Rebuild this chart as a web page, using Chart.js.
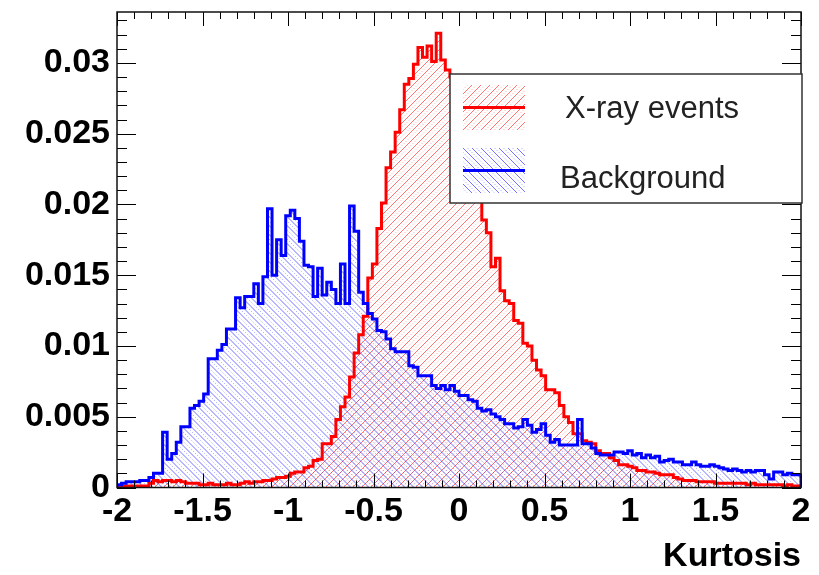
<!DOCTYPE html>
<html>
<head>
<meta charset="utf-8">
<script src="https://cdn.jsdelivr.net/npm/chart.js@4.4.1/dist/chart.umd.min.js"></script>
<style>
  html, body { margin: 0; padding: 0; background: #ffffff; }
  #wrap { width: 819px; height: 575px; }
</style>
</head>
<body>
<div id="wrap"><canvas id="myChart" width="819" height="575"></canvas></div>
<script>
// histogram range, 150 bins from -2 to 2
var x_min = -2;
var x_max = 2;
var y_max = 0.0336;

var x_ticks = [-2, -1.5, -1, -0.5, 0, 0.5, 1, 1.5, 2];
var x_tick_labels = ['-2', '-1.5', '-1', '-0.5', '0', '0.5', '1', '1.5', '2'];
var y_ticks = [0, 0.005, 0.01, 0.015, 0.02, 0.025, 0.03];
var y_tick_labels = ['0', '0.005', '0.01', '0.015', '0.02', '0.025', '0.03'];

var series_labels = ['X-ray events', 'Background'];

// normalised bin contents
var xray_counts = [
  0.0000, 0.0001, 0.0001, 0.0001, 0.0001, 0.0001, 0.0001, 0.0003, 0.0005, 0.0004,
  0.0005, 0.0005, 0.0004, 0.0005, 0.0004, 0.0003, 0.0003, 0.0003, 0.0002, 0.0002,
  0.0003, 0.0002, 0.0002, 0.0002, 0.0003, 0.0002, 0.0002, 0.0003, 0.0004, 0.0003,
  0.0004, 0.0004, 0.0005, 0.0005, 0.0006, 0.0007, 0.0007, 0.0008, 0.0010, 0.0011,
  0.0011, 0.0014, 0.0015, 0.0019, 0.0020, 0.0031, 0.0031, 0.0036, 0.0048, 0.0057,
  0.0064, 0.0078, 0.0095, 0.0108, 0.0121, 0.0148, 0.0158, 0.0183, 0.0201, 0.0226,
  0.0237, 0.0251, 0.0267, 0.0285, 0.0289, 0.0299, 0.0311, 0.0304, 0.0312, 0.0301,
  0.0321, 0.0302, 0.0295, 0.0290, 0.0281, 0.0272, 0.0260, 0.0246, 0.0231, 0.0212,
  0.0189, 0.0180, 0.0156, 0.0162, 0.0139, 0.0132, 0.0130, 0.0118, 0.0116, 0.0102,
  0.0100, 0.0090, 0.0083, 0.0079, 0.0069, 0.0069, 0.0067, 0.0058, 0.0050, 0.0046,
  0.0038, 0.0038, 0.0033, 0.0032, 0.0031, 0.0026, 0.0024, 0.0024, 0.0021, 0.0019,
  0.0016, 0.0016, 0.0015, 0.0014, 0.0012, 0.0012, 0.0011, 0.0011, 0.0010, 0.0009,
  0.0009, 0.0009, 0.0007, 0.0006, 0.0005, 0.0005, 0.0005, 0.0004, 0.0004, 0.0004,
  0.0004, 0.0003, 0.0003, 0.0003, 0.0003, 0.0003, 0.0003, 0.0003, 0.0002, 0.0003,
  0.0002, 0.0002, 0.0002, 0.0002, 0.0002, 0.0002, 0.0001, 0.0002, 0.0001, 0.0001
];

var background_counts = [
  0.0002, 0.0003, 0.0004, 0.0004, 0.0004, 0.0005, 0.0005, 0.0007, 0.0010, 0.0010,
  0.0039, 0.0020, 0.0024, 0.0032, 0.0043, 0.0043, 0.0056, 0.0058, 0.0061, 0.0066,
  0.0091, 0.0091, 0.0097, 0.0101, 0.0112, 0.0112, 0.0134, 0.0127, 0.0135, 0.0135,
  0.0144, 0.0130, 0.0149, 0.0197, 0.0150, 0.0175, 0.0164, 0.0192, 0.0196, 0.0190,
  0.0174, 0.0157, 0.0156, 0.0135, 0.0155, 0.0136, 0.0145, 0.0140, 0.0130, 0.0158,
  0.0130, 0.0199, 0.0181, 0.0138, 0.0130, 0.0123, 0.0119, 0.0111, 0.0110, 0.0105,
  0.0098, 0.0096, 0.0096, 0.0096, 0.0086, 0.0085, 0.0079, 0.0079, 0.0079, 0.0072,
  0.0070, 0.0072, 0.0069, 0.0072, 0.0068, 0.0065, 0.0065, 0.0062, 0.0061, 0.0056,
  0.0054, 0.0055, 0.0052, 0.0050, 0.0048, 0.0045, 0.0045, 0.0042, 0.0043, 0.0048,
  0.0044, 0.0039, 0.0041, 0.0045, 0.0037, 0.0032, 0.0034, 0.0030, 0.0030, 0.0030,
  0.0030, 0.0048, 0.0031, 0.0031, 0.0028, 0.0024, 0.0023, 0.0023, 0.0023, 0.0025,
  0.0025, 0.0024, 0.0026, 0.0023, 0.0024, 0.0021, 0.0023, 0.0021, 0.0022, 0.0018,
  0.0019, 0.0020, 0.0018, 0.0018, 0.0016, 0.0016, 0.0018, 0.0016, 0.0015, 0.0015,
  0.0016, 0.0015, 0.0014, 0.0013, 0.0012, 0.0013, 0.0012, 0.0011, 0.0012, 0.0011,
  0.0012, 0.0012, 0.0009, 0.0006, 0.0011, 0.0011, 0.0009, 0.0010, 0.0009, 0.0009
];

let chart = document.getElementById('myChart');

var font_name = "'Liberation Sans', Arial, Helvetica, sans-serif";

// turn bin contents into a closed step outline (two points per bin)
function histPoints(counts) {
  var w = (x_max - x_min) / counts.length;
  var pts = [{x: x_min, y: 0}];
  for (var i = 0; i < counts.length; i++) {
    pts.push({x: x_min + i * w, y: counts[i]});
    pts.push({x: x_min + (i + 1) * w, y: counts[i]});
  }
  pts.push({x: x_max, y: 0});
  return pts;
}

// diagonal hatch lines inside whatever clip is active, dir 1 = '/', dir -1 = '\'
function hatchLines(g, box, rgb, dir) {
  var h = box.bottom - box.top;
  var step = 9;
  g.lineWidth = 1;
  for (var pass = 0; pass < 2; pass++) {
    g.strokeStyle = 'rgba(' + rgb + (pass == 0 ? ',0.55)' : ',0.4)');
    g.setLineDash(pass == 0 ? [] : [1, 2]);
    g.beginPath();
    for (var x0 = box.left - h - step + pass * step / 2; x0 < box.right + step; x0 += step) {
      if (dir > 0) {
        g.moveTo(x0, box.bottom); g.lineTo(x0 + h, box.top);
      } else {
        g.moveTo(x0, box.top); g.lineTo(x0 + h, box.bottom);
      }
    }
    g.stroke();
  }
  g.setLineDash([]);
}

function findLabel(value, ticks, labels) {
  for (var i = 0; i < ticks.length; i++) {
    if (Math.abs(ticks[i] - value) < 1e-9) return labels[i];
  }
  return '';
}

var hatch_rgb = ['255,0,0', '0,0,255'];
var hatch_dir = [1, -1];

// hatched area under each histogram, built from the points chart.js placed
const hatchFill = {
  id: 'hatchFill',
  beforeDatasetsDraw(c) {
    var a = c.chartArea;
    var base = c.scales.y.getPixelForValue(0);
    var g = c.ctx;
    for (var k = 0; k < c.data.datasets.length; k++) {
      var pts = c.getDatasetMeta(k).data;
      g.save();
      g.beginPath();
      g.rect(a.left, a.top, a.right - a.left, a.bottom - a.top);
      g.clip();
      g.beginPath();
      g.moveTo(pts[0].x, base);
      for (var i = 0; i < pts.length; i++) g.lineTo(pts[i].x, pts[i].y);
      g.lineTo(pts[pts.length - 1].x, base);
      g.closePath();
      g.clip();
      hatchLines(g, a, hatch_rgb[k], hatch_dir[k]);
      g.restore();
    }
  }
};

// frame, inner ticks on all four sides, and the legend box
const rootFrame = {
  id: 'rootFrame',
  afterDraw(c) {
    var a = c.chartArea;
    var xs = c.scales.x;
    var ys = c.scales.y;
    var g = c.ctx;
    g.save();
    g.strokeStyle = '#000';
    g.lineWidth = 1;
    g.beginPath();
    // x ticks every 0.1, longer on 0.5
    for (var i = 0; i <= 40; i++) {
      var v = x_min + i * 0.1;
      var px = Math.round(xs.getPixelForValue(v)) + 0.5;
      var len = (i % 5 == 0) ? 14 : 7;
      g.moveTo(px, a.bottom); g.lineTo(px, a.bottom - len);
      g.moveTo(px, a.top); g.lineTo(px, a.top + len);
    }
    // y ticks every 0.001, longer on 0.005
    for (var j = 0; j <= 33; j++) {
      var vy = j * 0.001;
      var py = Math.round(ys.getPixelForValue(vy)) + 0.5;
      var ln = (j % 5 == 0) ? 19 : 10;
      g.moveTo(a.left, py); g.lineTo(a.left + ln, py);
      g.moveTo(a.right, py); g.lineTo(a.right - ln, py);
    }
    g.stroke();
    g.lineWidth = 1.5;
    g.strokeStyle = '#111';
    g.strokeRect(a.left, a.top, a.right - a.left, a.bottom - a.top);

    // legend
    var lx = 450, ly = 74, lw = 352, lh = 129;
    g.fillStyle = '#fff';
    g.fillRect(lx, ly, lw, lh);
    g.strokeStyle = '#333';
    g.lineWidth = 1.5;
    g.strokeRect(lx, ly, lw, lh);
    var sets = c.data.datasets;
    var rows = [{y: 85, tx: 565, ty: 118}, {y: 148, tx: 560, ty: 188}];
    for (var k = 0; k < rows.length; k++) {
      var ds = sets[k];
      var box = {left: 463, right: 525, top: rows[k].y, bottom: rows[k].y + 45};
      g.save();
      g.beginPath();
      g.rect(box.left, box.top, box.right - box.left, box.bottom - box.top);
      g.clip();
      hatchLines(g, box, hatch_rgb[k], hatch_dir[k]);
      g.restore();
      g.strokeStyle = ds.borderColor;
      g.lineWidth = 3;
      g.beginPath();
      g.moveTo(463, rows[k].y + 22.5);
      g.lineTo(525, rows[k].y + 22.5);
      g.stroke();
      g.fillStyle = '#222';
      g.font = '31px ' + font_name;
      g.textBaseline = 'alphabetic';
      g.textAlign = 'left';
      g.fillText(ds.label, rows[k].tx, rows[k].ty);
    }
    g.restore();
  }
};

const config = {
  type: 'line',
  data: {
    datasets: [{
      label: series_labels[0],
      data: histPoints(xray_counts),
      borderColor: '#ff0000',
      borderWidth: 3,
      borderJoinStyle: 'miter',
      pointRadius: 0,
      fill: false,
      tension: 0,
      order: 1
    }, {
      label: series_labels[1],
      data: histPoints(background_counts),
      borderColor: '#0000ff',
      borderWidth: 3,
      borderJoinStyle: 'miter',
      pointRadius: 0,
      fill: false,
      tension: 0,
      order: 0
    }]
  },
  options: {
    responsive: false,
    animation: false,
    devicePixelRatio: 1,
    layout: {
      padding: {top: 12, right: 18, left: 0, bottom: 0}
    },
    plugins: {
      legend: {display: false},
      tooltip: {enabled: false}
    },
    scales: {
      x: {
        type: 'linear',
        min: x_min,
        max: x_max,
        afterFit: function(scale) {
          scale.height = 87.5;
          scale.paddingLeft = 0;
          scale.paddingRight = 0;
        },
        grid: {drawOnChartArea: false, drawTicks: false},
        border: {display: false},
        ticks: {
          stepSize: 0.5,
          autoSkip: false,
          maxRotation: 0,
          padding: 4,
          color: '#000',
          font: {family: font_name, size: 34, weight: 'bold'},
          callback: function(value) { return findLabel(value, x_ticks, x_tick_labels); }
        },
        title: {
          display: true,
          text: 'Kurtosis',
          align: 'end',
          color: '#000',
          padding: {top: 0, bottom: 1},
          font: {family: font_name, size: 34, weight: 'bold', lineHeight: 1}
        }
      },
      y: {
        min: 0,
        max: y_max,
        afterFit: function(scale) {
          scale.width = 117;
          scale.paddingTop = 0;
          scale.paddingBottom = 0;
        },
        grid: {drawOnChartArea: false, drawTicks: false},
        border: {display: false},
        ticks: {
          stepSize: 0.005,
          includeBounds: false,
          padding: 7,
          color: '#000',
          font: {family: font_name, size: 34, weight: 'bold'},
          callback: function(value) { return findLabel(value, y_ticks, y_tick_labels); }
        }
      }
    }
  },
  plugins: [hatchFill, rootFrame]
};

var myChart = new Chart(chart, config);
</script>
</body>
</html>
